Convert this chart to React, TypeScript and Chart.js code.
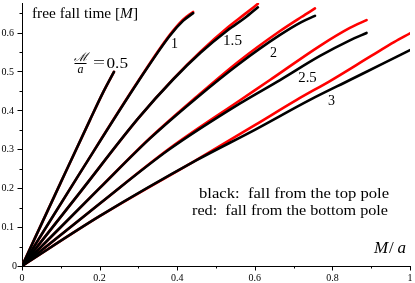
import React, { useEffect, useRef } from "react";
import { Chart, registerables } from "chart.js";

Chart.register(...registerables);

// ---- data (x = M/a, y = free fall time [M]) ----
const massLabels = ["0.5", "1", "1.5", "2", "2.5", "3"];

const black05 = [[0, 0], [0.1, 0.215], [0.175, 0.375], [0.21, 0.448], [0.237, 0.499]];
const red05 = [[0, 0], [0.1, 0.215], [0.175, 0.375], [0.21, 0.448], [0.237, 0.499]];

const black10 = [[0, 0], [0.15, 0.24], [0.3, 0.475], [0.381, 0.592], [0.415, 0.63], [0.441, 0.65]];
const red10 = [[0, 0], [0.15, 0.24], [0.3, 0.476], [0.381, 0.594], [0.415, 0.633], [0.441, 0.653]];

const black15 = [[0, 0], [0.15, 0.19], [0.3, 0.38], [0.39, 0.48], [0.46, 0.548], [0.53, 0.606], [0.575, 0.638], [0.608, 0.665]];
const red15 = [[0, 0], [0.15, 0.19], [0.3, 0.38], [0.39, 0.481], [0.46, 0.551], [0.53, 0.613], [0.575, 0.648], [0.608, 0.674]];

const black20 = [[0, 0], [0.2, 0.2], [0.33, 0.328], [0.45, 0.432], [0.56, 0.52], [0.665, 0.594], [0.72, 0.627], [0.755, 0.643]];
const red20 = [[0, 0], [0.2, 0.2], [0.33, 0.329], [0.45, 0.435], [0.56, 0.527], [0.665, 0.604], [0.72, 0.64], [0.755, 0.662]];

const black25 = [[0, 0], [0.2, 0.16], [0.38, 0.3], [0.562, 0.418], [0.665, 0.478], [0.768, 0.54], [0.845, 0.58], [0.888, 0.599]];
const red25 = [[0, 0], [0.2, 0.16], [0.38, 0.302], [0.562, 0.426], [0.639, 0.478], [0.768, 0.566], [0.845, 0.612], [0.888, 0.632]];

const black30 = [[0, 0], [0.2, 0.128], [0.45, 0.272], [0.6, 0.35], [0.742, 0.427], [0.845, 0.478], [0.93, 0.52], [1.0, 0.555]];
const red30 = [[0, 0], [0.2, 0.128], [0.45, 0.273], [0.6, 0.362], [0.708, 0.427], [0.798, 0.478], [0.9, 0.54], [0.96, 0.576], [1.0, 0.598]];

const blackCurves = [black05, black10, black15, black20, black25, black30];
const redCurves = [red05, red10, red15, red20, red25, red30];

const xMajorTicks = [0, 0.2, 0.4, 0.6, 0.8, 1];
const xTickLabels = ["0", "0.2", "0.4", "0.6", "0.8", "1"];
const xMinorTicks = [0.1, 0.3, 0.5, 0.7, 0.9];
const yMajorTicks = [0, 0.1, 0.2, 0.3, 0.4, 0.5, 0.6];
const yTickLabels = ["0", "0.1", "0.2", "0.3", "0.4", "0.5", "0.6"];
const yMinorTicks = [0.05, 0.15, 0.25, 0.35, 0.45, 0.55, 0.65];

const W = 415;
const H = 283;
const SERIF = "'Liberation Serif', 'Times New Roman', serif";

type Seg = { t: string; italic?: boolean };

function drawRun(
  ctx: CanvasRenderingContext2D,
  segs: Seg[],
  x: number,
  y: number,
  size: number,
  width?: number,
  align: "left" | "right" | "center" = "left"
) {
  ctx.save();
  const widths = segs.map((s) => {
    ctx.font = `${s.italic ? "italic " : ""}${size}px ${SERIF}`;
    return ctx.measureText(s.t).width;
  });
  const total = widths.reduce((a, b) => a + b, 0);
  const sx = width ? width / total : 1;
  const w = total * sx;
  const x0 = align === "left" ? x : align === "right" ? x - w : x - w / 2;
  ctx.translate(x0, y);
  ctx.scale(sx, 1);
  ctx.fillStyle = "#000";
  ctx.textAlign = "left";
  ctx.textBaseline = "alphabetic";
  let cx = 0;
  segs.forEach((s, i) => {
    ctx.font = `${s.italic ? "italic " : ""}${size}px ${SERIF}`;
    ctx.fillText(s.t, cx, 0);
    cx += widths[i];
  });
  ctx.restore();
}

const decorPlugin = {
  id: "decor",
  afterDraw(chart: any) {
    const ctx: CanvasRenderingContext2D = chart.ctx;
    const xs = chart.scales.x;
    const ys = chart.scales.y;
    const area = chart.chartArea;
    const axY = Math.round(area.bottom) + 0.5;
    const axX = Math.round(area.left) + 0.5;
    ctx.save();
    ctx.strokeStyle = "#000";
    ctx.lineWidth = 1;
    ctx.beginPath();
    xMajorTicks.forEach((v) => {
      const p = Math.round(xs.getPixelForValue(v)) + 0.5;
      ctx.moveTo(p, axY);
      ctx.lineTo(p, axY + 4);
    });
    xMinorTicks.forEach((v) => {
      const p = Math.round(xs.getPixelForValue(v)) + 0.5;
      ctx.moveTo(p, axY);
      ctx.lineTo(p, axY + 2);
    });
    yMajorTicks.forEach((v) => {
      const p = Math.round(ys.getPixelForValue(v)) + 0.5;
      ctx.moveTo(axX, p);
      ctx.lineTo(axX - 5, p);
    });
    yMinorTicks.forEach((v) => {
      const p = Math.round(ys.getPixelForValue(v)) + 0.5;
      ctx.moveTo(axX, p);
      ctx.lineTo(axX - 3, p);
    });
    ctx.stroke();

    // tick labels
    ctx.fillStyle = "#000";
    ctx.font = `10px ${SERIF}`;
    ctx.textBaseline = "alphabetic";
    ctx.textAlign = "center";
    xMajorTicks.forEach((v, i) => {
      ctx.fillText(xTickLabels[i], xs.getPixelForValue(v), 281);
    });
    ctx.textAlign = "right";
    ctx.textBaseline = "middle";
    yMajorTicks.forEach((v, i) => {
      const px = v === 0 ? 17 : 14;
      ctx.fillText(yTickLabels[i], px, ys.getPixelForValue(v) + 0.5);
    });

    // titles
    drawRun(ctx, [{ t: "free fall time [" }, { t: "M", italic: true }, { t: "]" }], 32, 17.5, 14, 106);
    drawRun(ctx, [{ t: "M", italic: true }], 374, 253, 17);
    drawRun(ctx, [{ t: "/" }], 389, 253, 17);
    drawRun(ctx, [{ t: "a", italic: true }], 397.5, 253, 17);

    drawRun(ctx, [{ t: "black:  fall from the top pole" }], 389, 198, 14, 190, "right");
    drawRun(ctx, [{ t: "red:  fall from the bottom pole" }], 388, 215, 14, 196, "right");

    // curve labels
    drawRun(ctx, [{ t: massLabels[1] }], 174.5, 48, 14, undefined, "center");
    drawRun(ctx, [{ t: massLabels[2] }], 232.5, 45, 14, 19, "center");
    drawRun(ctx, [{ t: massLabels[3] }], 273.5, 57, 14, undefined, "center");
    drawRun(ctx, [{ t: massLabels[4] }], 307.5, 81.5, 14, 18.5, "center");
    drawRun(ctx, [{ t: massLabels[5] }], 331.5, 105, 14, undefined, "center");

    // script M over a = 0.5
    ctx.save();
    ctx.font = `italic 12px 'DejaVu Serif', ${SERIF}`;
    ctx.textAlign = "center";
    ctx.textBaseline = "alphabetic";
    ctx.fillText("\u2133", 80.5, 60.5);
    ctx.restore();
    ctx.beginPath();
    ctx.moveTo(74.5, 63.5);
    ctx.lineTo(86.5, 63.5);
    ctx.stroke();
    drawRun(ctx, [{ t: "a", italic: true }], 80.5, 72.5, 12, undefined, "center");
    drawRun(ctx, [{ t: "=" }], 93, 67, 15, 12);
    drawRun(ctx, [{ t: massLabels[0] }], 106.5, 68, 15, 21.5);
    ctx.restore();
  },
};

export default function App() {
  const ref = useRef<HTMLCanvasElement>(null);
  useEffect(() => {
    document.body.style.margin = "0";
    const canvas = ref.current!;
    const mk = (d: number[][], color: string, order: number) => ({
      data: d.map(([x, y]) => ({ x, y })),
      borderColor: color,
      backgroundColor: color,
      borderWidth: 2.6,
      pointRadius: 0,
      pointHoverRadius: 0,
      showLine: true,
      fill: false,
      cubicInterpolationMode: "monotone" as const,
      borderCapStyle: "round" as const,
      order,
    });
    const datasets = [
      ...blackCurves.map((d) => mk(d, "#000000", 0)),
      ...redCurves.map((d) => mk(d, "#ff0000", 1)),
    ];
    const chart = new Chart(canvas, {
      type: "scatter",
      data: { datasets },
      options: {
        responsive: false,
        animation: false,
        devicePixelRatio: 1,
        layout: { padding: { left: 0, right: 5, top: 3, bottom: 0 } },
        plugins: { legend: { display: false }, tooltip: { enabled: false } },
        scales: {
          x: {
            type: "linear",
            min: 0,
            max: 1,
            afterFit: (s: any) => {
              s.height = 17;
            },
            ticks: { display: false },
            grid: { display: false },
            border: { display: true, color: "#000", width: 1 },
          },
          y: {
            type: "linear",
            min: 0,
            max: 0.676,
            afterFit: (s: any) => {
              s.width = 22;
            },
            ticks: { display: false },
            grid: { display: false },
            border: { display: true, color: "#000", width: 1 },
          },
        },
      } as any,
      plugins: [decorPlugin],
    });
    return () => chart.destroy();
  }, []);
  return (
    <div style={{ position: "absolute", left: 0, top: 0, width: W, height: H, background: "#fff" }}>
      <canvas ref={ref} width={W} height={H} style={{ width: W, height: H, display: "block" }} />
    </div>
  );
}
